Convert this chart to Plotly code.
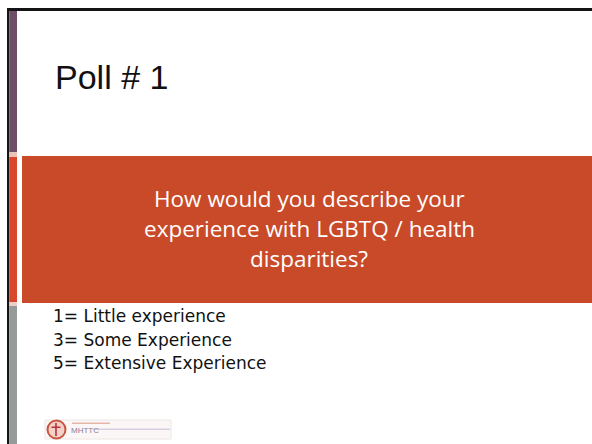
import plotly.graph_objects as go

# ---- slide content ----
title_text = "Poll # 1"
question_lines = ["How would you describe your", "experience with LGBTQ / health", "disparities?"]
scale_lines = ["1= Little experience", "3= Some Experience", "5= Extensive Experience"]
logo_text = "MHTTC"

W, H = 592, 444
ORANGE = "#C94A28"

fig = go.Figure()

shapes = [
    # top black rule
    dict(type="rect", x0=7, x1=W, y0=8, y1=11, fillcolor="#141414", line_width=0),
    # left black rule
    dict(type="rect", x0=7, x1=9.3, y0=8, y1=H, fillcolor="#141414", line_width=0),
    # left colour strip: purple / orange / gray
    dict(type="rect", x0=9.3, x1=17, y0=11, y1=152, fillcolor="#6E4D66", line_width=0),
    dict(type="rect", x0=9.3, x1=17, y0=152, y1=157, fillcolor="#E7C3B8", line_width=0),
    dict(type="rect", x0=9.3, x1=17, y0=157, y1=302, fillcolor="#D8472C", line_width=0),
    dict(type="rect", x0=9.3, x1=17, y0=302, y1=306, fillcolor="#E9CFC8", line_width=0),
    dict(type="rect", x0=9.3, x1=17, y0=306, y1=H, fillcolor="#959A9A", line_width=0),
    # main orange band
    dict(type="rect", x0=22, x1=W, y0=156, y1=303, fillcolor=ORANGE, line_width=0),
    # logo
    dict(type="rect", x0=45, x1=171, y0=420, y1=439, fillcolor="#FBF7F6",
         line=dict(color="#EFE6E6", width=1)),
    dict(type="circle", x0=47.5, x1=65.5, y0=420.5, y1=438.5, fillcolor="#F2D2C8",
         line=dict(color="#C8553F", width=2)),
    dict(type="rect", x0=55.2, x1=56.8, y0=423, y1=436, fillcolor="#B8303A", line_width=0),
    dict(type="rect", x0=51.5, x1=60.5, y0=426.5, y1=428, fillcolor="#B8303A", line_width=0),
    dict(type="rect", x0=72, x1=110, y0=422.5, y1=424, fillcolor="#E6B7A8", line_width=0),
    dict(type="rect", x0=93, x1=170, y0=428.5, y1=430, fillcolor="#D9CFE0", line_width=0),
]

annotations = [
    dict(x=53, y=77, text=title_text, showarrow=False, xanchor="left", yanchor="middle",
         font=dict(family="Liberation Sans, Arial", size=34, color="#111111")),
    dict(x=69, y=430, text=logo_text, showarrow=False, xanchor="left", yanchor="middle",
         font=dict(family="Liberation Sans, Arial", size=8, color="#8C7C9C")),
]

q_y = [198, 228, 258]
for txt, yy in zip(question_lines, q_y):
    annotations.append(dict(x=309, y=yy, text=txt, showarrow=False, xanchor="center",
                            yanchor="middle",
                            font=dict(family="Open Sans", size=22.5, color="#FFFFFF")))

s_y = [316, 339.5, 363]
for txt, yy in zip(scale_lines, s_y):
    annotations.append(dict(x=51, y=yy, text=txt, showarrow=False, xanchor="left",
                            yanchor="middle",
                            font=dict(family="DejaVu Sans", size=17, color="#111111")))

fig.update_layout(
    width=W, height=H, autosize=False,
    margin=dict(l=0, r=0, t=0, b=0),
    paper_bgcolor="white", plot_bgcolor="white",
    xaxis=dict(range=[0, W], visible=False, fixedrange=True),
    yaxis=dict(range=[H, 0], visible=False, fixedrange=True),
    shapes=shapes, annotations=annotations, showlegend=False,
)

fig.write_html("out.html", config={"displayModeBar": False},
               post_script="document.body.style.margin='0';document.body.style.overflow='hidden';")
